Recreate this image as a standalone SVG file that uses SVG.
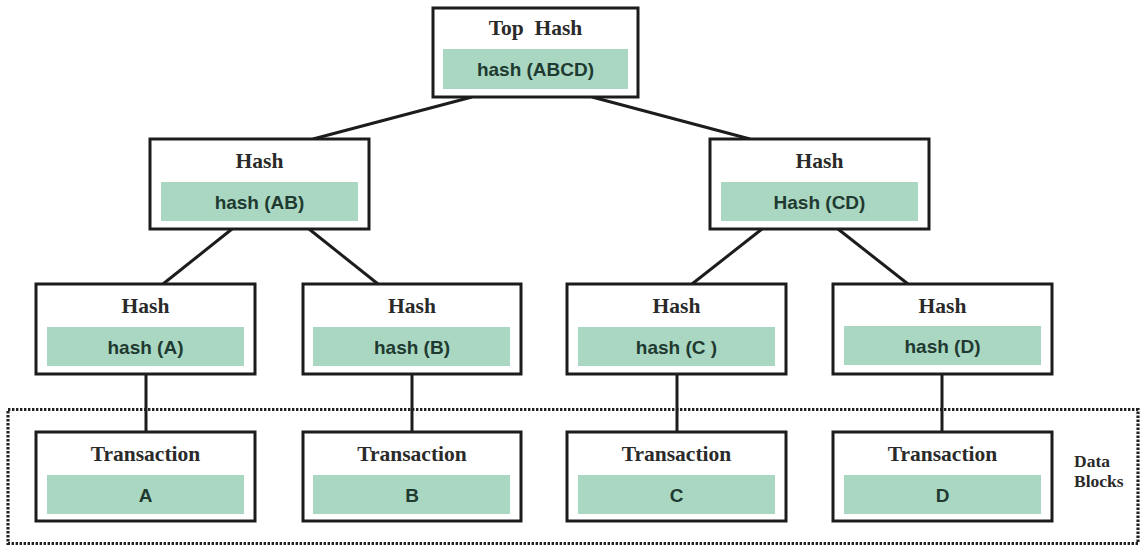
<svg xmlns="http://www.w3.org/2000/svg" width="1140" height="546" viewBox="0 0 1140 546">
<style>
.box{fill:#ffffff;stroke:#1c1c1c;stroke-width:3}
.inner{fill:#a9d7c2;stroke:none}
.title{font-family:"Liberation Serif","Times New Roman",serif;font-weight:bold;font-size:21.5px;fill:#2a2a2a;text-anchor:middle}
.val{font-family:"Liberation Sans",Arial,sans-serif;font-weight:bold;font-size:19px;fill:#1f3a30;text-anchor:middle}
.conn{stroke:#1c1c1c;stroke-width:3;fill:none}
.dots{fill:none;stroke:#222222;stroke-width:3.2;stroke-dasharray:2.4 1.6}
.side{font-family:"Liberation Serif","Times New Roman",serif;font-weight:bold;font-size:17.5px;fill:#2a2a2a}
</style>
<rect width="1140" height="546" fill="#ffffff"/>
<g id="data-blocks-region">
<rect class="dots" x="8" y="409.5" width="1130" height="134"/>
<text class="side" x="1074" y="467">Data</text>
<text class="side" x="1074" y="487">Blocks</text>
</g>
<g id="connectors">
<line class="conn" x1="472" y1="97" x2="313" y2="139"/>
<line class="conn" x1="592" y1="97" x2="750" y2="139"/>
<line class="conn" x1="232" y1="229" x2="163" y2="284"/>
<line class="conn" x1="309" y1="229" x2="378" y2="284"/>
<line class="conn" x1="762" y1="229" x2="692" y2="284"/>
<line class="conn" x1="838" y1="229" x2="908" y2="284"/>
<line class="conn" x1="146" y1="374" x2="146" y2="432"/>
<line class="conn" x1="412" y1="374" x2="412" y2="432"/>
<line class="conn" x1="677" y1="374" x2="677" y2="432"/>
<line class="conn" x1="942" y1="374" x2="942" y2="432"/>
</g>
<g id="top-hash">
<rect class="box" x="433" y="8" width="205" height="89"/>
<rect class="inner" x="443" y="49" width="185" height="40"/>
<text class="title" x="535.5" y="35" xml:space="preserve">Top  Hash</text>
<text class="val" x="535.5" y="76">hash (ABCD)</text>
</g>
<g id="hash-ab">
<rect class="box" x="150" y="139" width="219" height="90"/>
<rect class="inner" x="161" y="182" width="197" height="39"/>
<text class="title" x="259.5" y="168">Hash</text>
<text class="val" x="259.5" y="208.5">hash (AB)</text>
</g>
<g id="hash-cd">
<rect class="box" x="710" y="139" width="219" height="90"/>
<rect class="inner" x="721" y="182" width="197" height="39"/>
<text class="title" x="819.5" y="168">Hash</text>
<text class="val" x="819.5" y="208.5">Hash (CD)</text>
</g>
<g id="hash-a">
<rect class="box" x="36" y="284" width="219" height="90"/>
<rect class="inner" x="47" y="327" width="197" height="39"/>
<text class="title" x="145.5" y="313">Hash</text>
<text class="val" x="145.5" y="353.5">hash (A)</text>
</g>
<g id="hash-b">
<rect class="box" x="303" y="284" width="218" height="90"/>
<rect class="inner" x="313" y="327" width="197" height="39"/>
<text class="title" x="412" y="313">Hash</text>
<text class="val" x="412" y="353.5">hash (B)</text>
</g>
<g id="hash-c">
<rect class="box" x="567" y="284" width="219" height="90"/>
<rect class="inner" x="578" y="327" width="197" height="39"/>
<text class="title" x="676.5" y="313">Hash</text>
<text class="val" x="676.5" y="353.5">hash (C )</text>
</g>
<g id="hash-d">
<rect class="box" x="833" y="284" width="219" height="90"/>
<rect class="inner" x="844" y="326" width="197" height="39"/>
<text class="title" x="942.5" y="313">Hash</text>
<text class="val" x="942.5" y="352.5">hash (D)</text>
</g>
<g id="tx-a">
<rect class="box" x="36" y="432" width="219" height="89"/>
<rect class="inner" x="47" y="475" width="197" height="39"/>
<text class="title" x="145.5" y="461">Transaction</text>
<text class="val" x="145.5" y="501.5">A</text>
</g>
<g id="tx-b">
<rect class="box" x="303" y="432" width="218" height="89"/>
<rect class="inner" x="313" y="475" width="197" height="39"/>
<text class="title" x="412" y="461">Transaction</text>
<text class="val" x="412" y="501.5">B</text>
</g>
<g id="tx-c">
<rect class="box" x="567" y="432" width="219" height="89"/>
<rect class="inner" x="578" y="475" width="197" height="39"/>
<text class="title" x="676.5" y="461">Transaction</text>
<text class="val" x="676.5" y="501.5">C</text>
</g>
<g id="tx-d">
<rect class="box" x="833" y="432" width="219" height="89"/>
<rect class="inner" x="844" y="475" width="197" height="39"/>
<text class="title" x="942.5" y="461">Transaction</text>
<text class="val" x="942.5" y="501.5">D</text>
</g>
</svg>
